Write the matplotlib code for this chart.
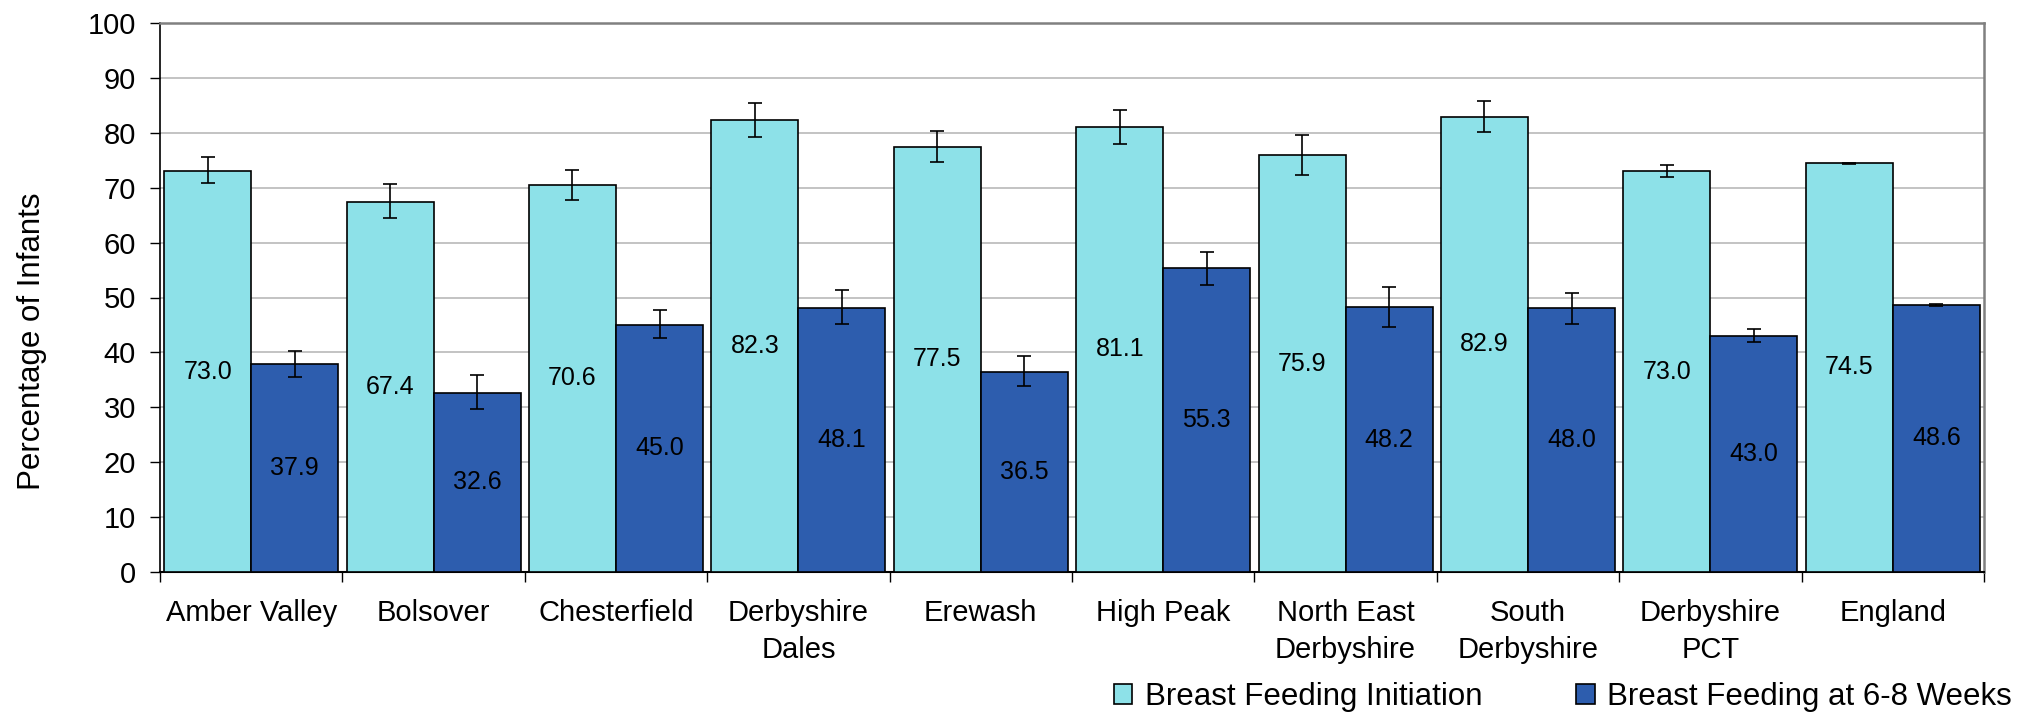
import numpy as np
import matplotlib.pyplot as plt
from matplotlib.patches import Patch

# ==========================
# Datos
# ==========================
areas = ['Amber Valley', 'Bolsover', 'Chesterfield', 'Derbyshire\nDales', 'Erewash',
         'High Peak', 'North East\nDerbyshire', 'South\nDerbyshire', 'Derbyshire\nPCT', 'England']

initiation = [73.0, 67.4, 70.6, 82.3, 77.5, 81.1, 75.9, 82.9, 73.0, 74.5]
init_err_low = [2.2, 2.9, 2.8, 3.0, 2.8, 3.1, 3.6, 2.8, 1.0, 0.1]
init_err_high = [2.7, 3.3, 2.7, 3.1, 2.9, 3.1, 3.7, 2.9, 1.1, 0.1]

weeks_6_8 = [37.9, 32.6, 45.0, 48.1, 36.5, 55.3, 48.2, 48.0, 43.0, 48.6]
wk_err_low = [2.4, 2.9, 2.4, 3.0, 2.6, 3.0, 3.5, 2.8, 1.2, 0.2]
wk_err_high = [2.4, 3.3, 2.7, 3.3, 2.9, 3.0, 3.7, 2.9, 1.3, 0.2]

series_names = ['Breast Feeding Initiation', 'Breast Feeding at 6-8 Weeks']
colors = ['#8DE1E8', '#2D5DAE']

plt.rcParams['font.family'] = ['Liberation Sans', 'DejaVu Sans']

# ==========================
# Figura
# ==========================
W, H = 2036, 713
fig = plt.figure(figsize=(W / 100, H / 100), dpi=100)
ax = fig.add_axes([160 / W, (H - 571.7) / H, (1984 - 160) / W, (571.7 - 23.3) / H])

x = np.arange(len(areas))
width = 0.477

ax.bar(x - width / 2, initiation, width, color=colors[0], edgecolor='black',
       linewidth=1.2, zorder=3)
ax.bar(x + width / 2, weeks_6_8, width, color=colors[1], edgecolor='black',
       linewidth=1.2, zorder=3)

ax.errorbar(x - width / 2, initiation, yerr=[init_err_low, init_err_high], fmt='none',
            ecolor='black', elinewidth=1.2, capsize=4.7, capthick=1.2, zorder=4)
ax.errorbar(x + width / 2, weeks_6_8, yerr=[wk_err_low, wk_err_high], fmt='none',
            ecolor='black', elinewidth=1.2, capsize=4.7, capthick=1.2, zorder=4)

# Etiquetas dentro de las barras (centradas)
for xi, v in zip(x - width / 2, initiation):
    ax.text(xi, v / 2, f'{v:.1f}', ha='center', va='center', fontsize=18, zorder=5)
for xi, v in zip(x + width / 2, weeks_6_8):
    ax.text(xi, v / 2, f'{v:.1f}', ha='center', va='center', fontsize=18, zorder=5)

# Ejes
ax.set_xlim(-0.5, len(areas) - 0.5)
ax.set_ylim(0, 100)
ax.set_yticks(np.arange(0, 101, 10))
ax.tick_params(axis='y', labelsize=21, length=7.2, width=1, pad=10, direction='out')

ax.set_xticks(x)
ax.set_xticklabels(areas, fontsize=21, linespacing=1.4)
ax.tick_params(axis='x', which='major', length=0, pad=20)
ax.set_xticks(np.arange(-0.5, len(areas), 1), minor=True)
ax.tick_params(axis='x', which='minor', length=7.2, width=1, direction='out')

ax.yaxis.grid(True, color='#BEBEBE', linewidth=1.3, zorder=0)
ax.set_axisbelow(True)
ax.spines['left'].set_color('black')
ax.spines['bottom'].set_color('black')
ax.spines['left'].set_linewidth(1.2)
ax.spines['bottom'].set_linewidth(1.5)
ax.spines['top'].set_color('#808080')
ax.spines['right'].set_color('#808080')
ax.spines['top'].set_linewidth(1.8)
ax.spines['right'].set_linewidth(1.8)

fig.text(32 / W, 1 - 341 / H, 'Percentage of Infants', rotation=90,
         ha='center', va='center', fontsize=22.5)

# Leyenda
handles = [Patch(facecolor=c, edgecolor='black', linewidth=1.2) for c in colors]
fig.legend(handles, series_names, loc='center right', bbox_to_anchor=(2012 / W, 1 - 697 / H),
           ncol=2, frameon=False, fontsize=22.5, handlelength=0.6, handleheight=0.6,
           handletextpad=0.4, columnspacing=3.0, borderaxespad=0, borderpad=0)

fig.savefig('out.png', dpi=100)
